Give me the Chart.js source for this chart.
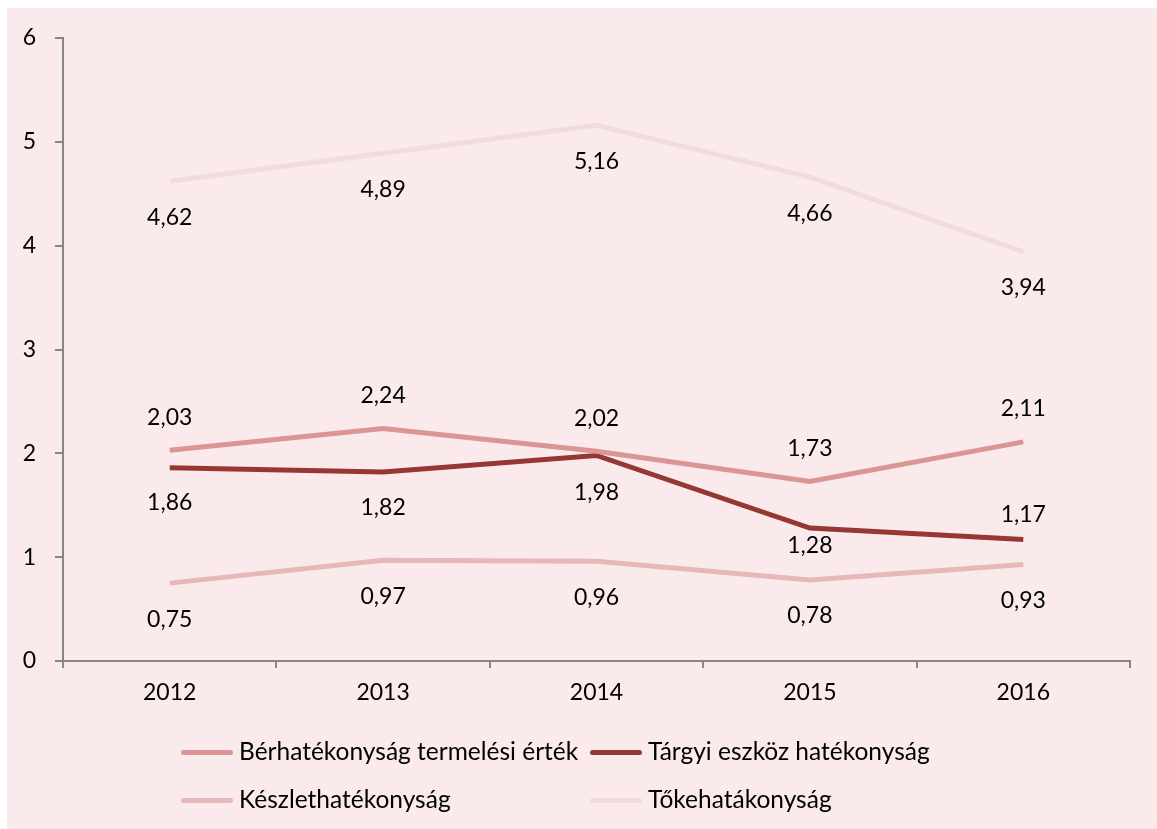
<!DOCTYPE html>
<html>
<head>
<meta charset="utf-8">
<script src="https://cdn.jsdelivr.net/npm/chart.js@4.4.1/dist/chart.umd.min.js"></script>
<style>
  html, body { margin: 0; padding: 0; background: #fff; }
  #wrap { position: relative; width: 1157px; height: 829px; overflow: hidden; }
  #bg { position: absolute; left: 7px; top: 8px; right: 0; bottom: 0; background: #faeaeb; }
  #c { position: absolute; left: 0; top: 0; }
  .leg { position: absolute; font-family: Lato, sans-serif; font-size: 24.5px; color: #000; line-height: 28px; white-space: nowrap; }
  .sw { position: absolute; width: 52px; height: 5px; border-radius: 3px; }
</style>
</head>
<body>
<div id="wrap">
  <div id="bg"></div>
  <canvas id="c" width="1157" height="829"></canvas>
  <div id="legend"></div>
</div>
<script>
const years = ['2012', '2013', '2014', '2015', '2016'];
const berhat = [2.03, 2.24, 2.02, 1.73, 2.11];
const targyi = [1.86, 1.82, 1.98, 1.28, 1.17];
const keszlet = [0.75, 0.97, 0.96, 0.78, 0.93];
const toke = [4.62, 4.89, 5.16, 4.66, 3.94];
const names = ['Bérhatékonyság termelési érték', 'Tárgyi eszköz hatékonyság', 'Készlethatékonyság', 'Tőkehatákonyság'];
const yTicks = [0, 1, 2, 3, 4, 5, 6];

const colors = ['#d99694', '#953735', '#e6b9b8', '#f2dcdb'];
// vertical shift of each value label from its point (px, + is down)
const labelShift = [
  [-33, -33, -33, -33, -33],
  [35, 36, 37, 17, -25],
  [36, 36, 36, 36, 36],
  [36, 36, 36, 36, 36]
];

const FONT = 'Lato, sans-serif';

const valueLabels = {
  id: 'valueLabels',
  afterDatasetsDraw(chart) {
    const ctx = chart.ctx;
    ctx.save();
    ctx.font = '23px ' + FONT;
    ctx.fillStyle = '#000';
    ctx.textAlign = 'center';
    ctx.textBaseline = 'middle';
    chart.data.datasets.forEach((ds, i) => {
      chart.getDatasetMeta(i).data.forEach((pt, j) => {
        const txt = ds.data[j].toFixed(2).replace('.', ',');
        ctx.fillText(txt, pt.x, pt.y + labelShift[i][j]);
      });
    });
    ctx.restore();
  }
};

const series = [berhat, targyi, keszlet, toke];
const datasets = series.map((d, i) => ({
  label: names[i],
  data: d,
  borderColor: colors[i],
  backgroundColor: colors[i],
  borderWidth: 5,
  pointRadius: 0,
  tension: 0,
  borderCapStyle: 'butt',
  order: i === 3 ? 4 : i
}));

new Chart(document.getElementById('c'), {
  type: 'line',
  data: { labels: years, datasets: datasets },
  options: {
    responsive: false,
    animation: false,
    layout: { padding: { left: 0, top: 38, right: 27, bottom: 0 } },
    plugins: { legend: { display: false }, tooltip: { enabled: false } },
    scales: {
      x: {
        offset: true,
        grid: { offset: true, drawOnChartArea: false, tickLength: 7, color: '#868686', lineWidth: 2 },
        border: { color: '#868686', width: 2 },
        ticks: { color: '#000', font: { family: FONT, size: 23 }, padding: 11 },
        afterFit(s) { s.height = 168; }
      },
      y: {
        min: 0, max: 6,
        afterBuildTicks(s) { s.ticks = yTicks.map(v => ({ value: v })); },
        grid: { drawOnChartArea: false, tickLength: 8, color: '#868686', lineWidth: 2 },
        border: { color: '#868686', width: 2 },
        ticks: { color: '#000', font: { family: FONT, size: 23 }, padding: 19 },
        afterFit(s) { s.width = 63; }
      }
    }
  },
  plugins: [valueLabels]
});

// legend laid out in two columns like the original
const legSpots = [[181, 752], [590, 752], [181, 800], [590, 800]];
const legend = document.getElementById('legend');
names.forEach((n, i) => {
  const sw = document.createElement('div');
  sw.className = 'sw';
  sw.style.left = legSpots[i][0] + 'px';
  sw.style.top = (legSpots[i][1] - 2.5) + 'px';
  sw.style.background = colors[i];
  legend.appendChild(sw);
  const t = document.createElement('div');
  t.className = 'leg';
  t.textContent = n;
  t.style.left = (legSpots[i][0] + 58) + 'px';
  t.style.top = (legSpots[i][1] - 15) + 'px';
  legend.appendChild(t);
});
</script>
</body>
</html>
